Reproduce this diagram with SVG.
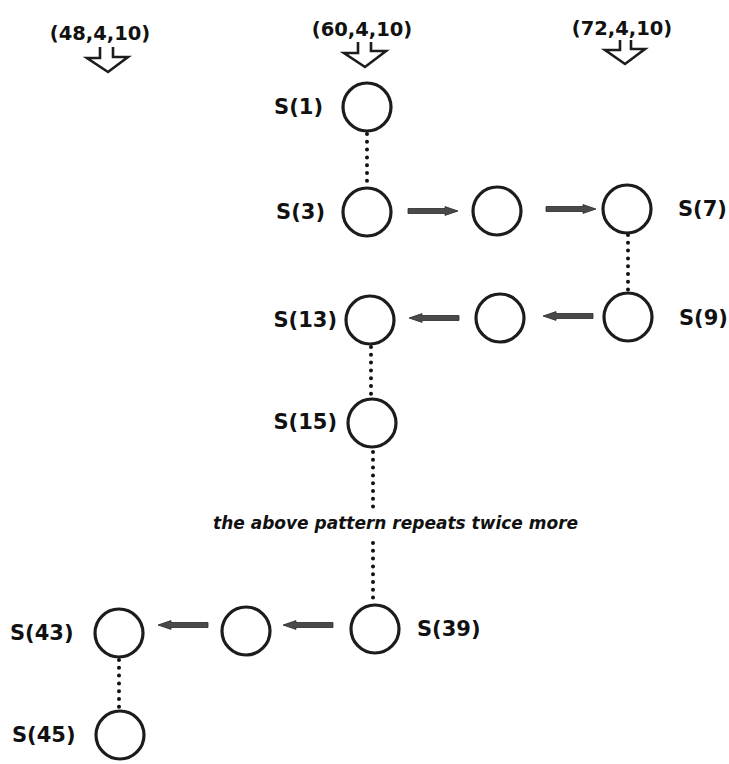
<svg xmlns="http://www.w3.org/2000/svg" xmlns:xlink="http://www.w3.org/1999/xlink" width="729" height="764" viewBox="0 0 729 764">
<style>
.bg{fill:#ffffff}
.node{fill:none;stroke:#1c1c1c;stroke-width:3.2}
.lbl{font-family:"DejaVu Sans","Liberation Sans",sans-serif;font-weight:bold;font-size:21px;fill:#111}
.top{font-family:"DejaVu Sans","Liberation Sans",sans-serif;font-weight:bold;font-size:19.5px;fill:#111}
.note{font-family:"DejaVu Sans","Liberation Sans",sans-serif;font-weight:bold;font-style:italic;font-size:17px;fill:#111}
.dots{fill:none;stroke:#111;stroke-width:4;stroke-linecap:round;stroke-dasharray:0 7.8}
.hollow{fill:none;stroke:#1c1c1c;stroke-width:2.6;stroke-linejoin:miter}
.arr{fill:#4a4a4a;stroke:#2a2a2a;stroke-width:0.8}
</style>
<defs>
<path id="arrow" d="M0,-2.5 H37 V-4.4 L50,0 L37,4.4 V2.5 H0 Z"/>
</defs>
<rect class="bg" x="0" y="0" width="729" height="764"/>

<g id="input-48">
<text class="top" x="100" y="40" text-anchor="middle">(48,4,10)</text>
<path class="hollow" d="M100,47 V58 H87 L108,72 L128,57 H113 V47"/>
</g>
<g id="input-60">
<text class="top" x="362" y="36" text-anchor="middle">(60,4,10)</text>
<path class="hollow" d="M358,42 V53 H344 L365,67 L386,51 H371 V42"/>
</g>
<g id="input-72">
<text class="top" x="622" y="35" text-anchor="middle">(72,4,10)</text>
<path class="hollow" d="M620,40 V50 H605 L625,64 L645,49 H631 V40"/>
</g>

<g id="connectors">
<line class="dots" x1="367" y1="134" x2="367" y2="186"/>
<line class="dots" x1="628" y1="235" x2="628" y2="291"/>
<line class="dots" x1="371" y1="347" x2="371" y2="396"/>
<line class="dots" x1="373" y1="452" x2="373" y2="513"/>
<line class="dots" x1="373" y1="543" x2="373" y2="603"/>
<line class="dots" x1="119" y1="660" x2="119" y2="709"/>
<use class="arr" xlink:href="#arrow" href="#arrow" transform="translate(408,211)"/>
<use class="arr" xlink:href="#arrow" href="#arrow" transform="translate(546,209)"/>
<use class="arr" xlink:href="#arrow" href="#arrow" transform="translate(593,316) scale(-1,1)"/>
<use class="arr" xlink:href="#arrow" href="#arrow" transform="translate(459,318) scale(-1,1)"/>
<use class="arr" xlink:href="#arrow" href="#arrow" transform="translate(333,625) scale(-1,1)"/>
<use class="arr" xlink:href="#arrow" href="#arrow" transform="translate(208,625) scale(-1,1)"/>
</g>

<g id="S1"><circle class="node" cx="367" cy="107" r="24"/><text class="lbl" x="323" y="114" text-anchor="end">S(1)</text></g>
<g id="S3"><circle class="node" cx="367" cy="212" r="24"/><text class="lbl" x="325" y="219" text-anchor="end">S(3)</text></g>
<g id="S5"><circle class="node" cx="497" cy="211" r="24"/></g>
<g id="S7"><circle class="node" cx="627" cy="209" r="24"/><text class="lbl" x="678" y="216">S(7)</text></g>
<g id="S9"><circle class="node" cx="628" cy="317" r="24"/><text class="lbl" x="679" y="325">S(9)</text></g>
<g id="S11"><circle class="node" cx="500" cy="318" r="24"/></g>
<g id="S13"><circle class="node" cx="370" cy="320" r="24"/><text class="lbl" x="337" y="327" text-anchor="end">S(13)</text></g>
<g id="S15"><circle class="node" cx="372" cy="423" r="24"/><text class="lbl" x="337" y="429" text-anchor="end">S(15)</text></g>
<g id="note"><text class="note" x="213" y="529">the above pattern repeats twice more</text></g>
<g id="S39"><circle class="node" cx="375" cy="629" r="24"/><text class="lbl" x="417" y="636">S(39)</text></g>
<g id="S41"><circle class="node" cx="246" cy="631" r="24"/></g>
<g id="S43"><circle class="node" cx="119" cy="633" r="24"/><text class="lbl" x="10" y="640">S(43)</text></g>
<g id="S45"><circle class="node" cx="120" cy="735" r="24"/><text class="lbl" x="12" y="742">S(45)</text></g>
</svg>
